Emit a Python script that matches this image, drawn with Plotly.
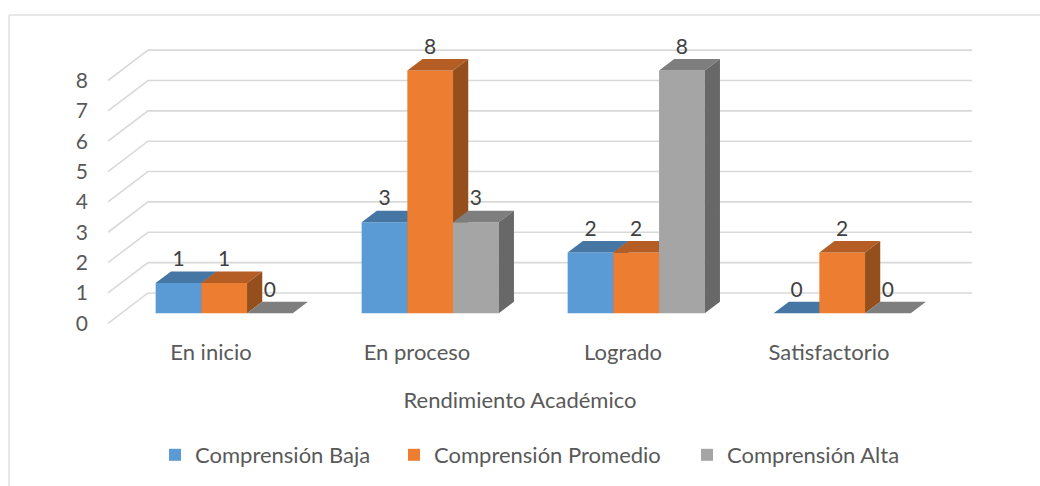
import plotly.graph_objects as go

categories = ["En inicio", "En proceso", "Logrado", "Satisfactorio"]
serie_baja = [1, 3, 2, 0]
serie_promedio = [1, 8, 2, 2]
serie_alta = [0, 3, 8, 0]
series_names = ["Comprensión Baja", "Comprensión Promedio", "Comprensión Alta"]
value_ticks = [0, 1, 2, 3, 4, 5, 6, 7, 8]

W, H = 1040, 486
PX_CAT, X0 = 206.0, 211.0
PX_VAL, Y0 = 30.35, 323.3
xr = [(0 - X0) / PX_CAT, (W - X0) / PX_CAT]
yr = [(Y0 - H) / PX_VAL, Y0 / PX_VAL]

DEPTH_X, DEPTH_Y = 40 / PX_CAT, 1.0     # depth of the floor
F_FRONT, F_DEEP = 0.33, 0.38            # bar position within that depth
BAR_W = 45.7 / PX_CAT
FONT = "Lato"
TXT = "#595959"

styles = [
    ("#5B9BD5", "#4677A4", "#375F85"),
    ("#ED7D31", "#B45D24", "#954F1C"),
    ("#A5A5A5", "#7E7E7E", "#686868"),
]
legend_ids = ["legend", "legend2", "legend3"]
legend_text_px = [195, 434, 727]

fig = go.Figure()

gx, gy = [], []
for v in value_ticks:
    gx += [-0.5, -0.5 + DEPTH_X, 3.5 + DEPTH_X, None]
    gy += [v, v + DEPTH_Y, v + DEPTH_Y, None]
fig.add_trace(go.Scatter(x=gx, y=gy, mode="lines", showlegend=False, hoverinfo="skip",
                         line=dict(color="#D9D9D9", width=1.6)))

base = F_FRONT * DEPTH_Y
shift = F_FRONT * DEPTH_X
dx, dy = F_DEEP * DEPTH_X, F_DEEP * DEPTH_Y

for i, (name, vals, st) in enumerate(zip(series_names, [serie_baja, serie_promedio, serie_alta], styles)):
    ax = i + 2
    xs = [c + shift + (i - 1) * BAR_W for c in range(len(categories))]
    fig.add_trace(go.Bar(x=xs, y=vals, base=[base] * len(vals), width=BAR_W, name=name,
                         marker=dict(color=st[0], line=dict(width=0)),
                         xaxis=f"x{ax}", yaxis=f"y{ax}", legend=legend_ids[i]))
    tx, ty, sx, sy = [], [], [], []
    for x, v in zip(xs, vals):
        l, r = x - BAR_W / 2, x + BAR_W / 2
        t = base + v
        tx += [l, r, r + dx, l + dx, l, None]
        ty += [t, t, t + dy, t + dy, t, None]
        sx += [r, r + dx, r + dx, r, r, None]
        sy += [base, base + dy, t + dy, t, base, None]
    for px, py, col in ((tx, ty, st[1]), (sx, sy, st[2])):
        fig.add_trace(go.Scatter(x=px, y=py, mode="lines", fill="toself", fillcolor=col,
                                 line=dict(width=0, color=col), showlegend=False, hoverinfo="skip",
                                 xaxis=f"x{ax}", yaxis=f"y{ax}"))
    fig.add_trace(go.Scatter(x=xs, y=[base + v + dy for v in vals], mode="text",
                             text=[str(v) for v in vals], textposition="top center",
                             textfont=dict(family=FONT, size=21, color="#404040"),
                             showlegend=False, hoverinfo="skip",
                             xaxis=f"x{ax}", yaxis=f"y{ax}"))

layout = dict(
    width=W, height=H, autosize=False,
    margin=dict(l=0, r=0, t=0, b=0),
    paper_bgcolor="white", plot_bgcolor="white",
    barmode="overlay", font=dict(family=FONT, color=TXT),
    xaxis=dict(range=xr, domain=[0, 1], anchor="free", position=(H - 337) / H,
               tickmode="array", tickvals=list(range(4)), ticktext=categories,
               showgrid=False, zeroline=False, showline=False, ticks="", ticklen=0,
               tickfont=dict(family=FONT, size=22, color=TXT),
               title=dict(text="Rendimiento Académico", standoff=28,
                          font=dict(family=FONT, size=22, color=TXT))),
    yaxis=dict(range=yr, domain=[0, 1], anchor="free", position=88 / W,
               tickmode="array", tickvals=value_ticks,
               showgrid=False, zeroline=False, showline=False, ticks="",
               tickfont=dict(family=FONT, size=21, color=TXT)),
    shapes=[
        dict(type="line", xref="paper", yref="paper", x0=9 / W, x1=1, y0=(H - 15) / H, y1=(H - 15) / H,
             line=dict(color="#E0E0E0", width=1.5)),
        dict(type="line", xref="paper", yref="paper", x0=9 / W, x1=9 / W, y0=0, y1=(H - 15) / H,
             line=dict(color="#E0E0E0", width=1.5)),
    ],
)
for lid, tpx in zip(legend_ids, legend_text_px):
    layout[lid] = dict(orientation="h", x=(tpx - 40) / W, xanchor="left",
                       y=(H - 455) / H, yanchor="middle",
                       font=dict(family=FONT, size=22, color=TXT),
                       bgcolor="rgba(0,0,0,0)")
for a in (2, 3, 4):
    layout[f"xaxis{a}"] = dict(range=xr, overlaying="x", visible=False, anchor=f"y{a}")
    layout[f"yaxis{a}"] = dict(range=yr, overlaying="y", visible=False, anchor=f"x{a}")
fig.update_layout(**layout)
fig.write_html("out.html", config={"displayModeBar": False},
               post_script="document.body.style.margin='0';document.documentElement.style.overflow='hidden';")
